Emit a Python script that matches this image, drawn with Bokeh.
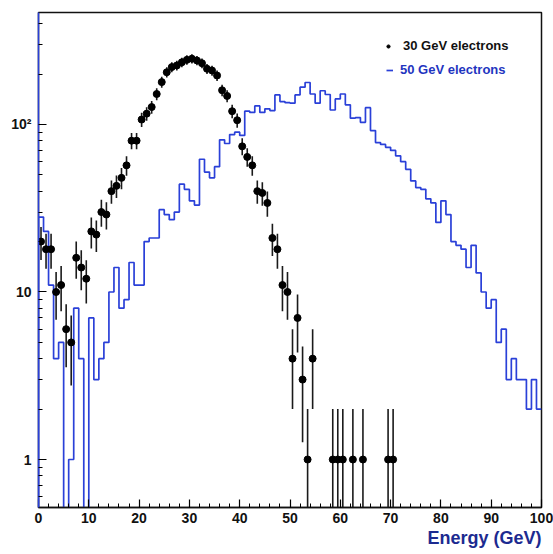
import numpy as np
from bokeh.plotting import figure
from bokeh.models import Range1d, SingleIntervalTicker, FixedTicker, Title, Legend, LegendItem
from bokeh.embed import file_html
from bokeh.resources import INLINE

# 1 GeV wide bins from 0 to 100 GeV
bin_edges = list(range(0, 101))

# 50 GeV electrons (histogram)
counts_50 = [28, 23, 11, 4, 5, 0, 1, 8, 4, 0,
             7, 3, 4, 5, 10, 14, 8, 9, 15, 11,
             11, 20, 21, 21, 31, 29, 27, 30, 44, 41,
             35, 33, 62, 52, 48, 56, 81, 77, 87, 90,
             86, 120, 118, 129, 118, 124, 121, 150, 137, 135,
             134, 150, 167, 178, 152, 134, 159, 151, 122, 142,
             152, 131, 109, 110, 103, 126, 92, 78, 76, 73,
             70, 65, 60, 54, 46, 42, 41, 36, 34, 26,
             35, 29, 20, 19, 18, 14, 19, 13, 10, 8,
             9, 5, 6, 3, 4, 3, 3, 2, 3, 2]

# 30 GeV electrons (points with errors)
counts_30 = [20, 18, 18, 10, 11, 6, 5, 16, 14, 12,
             23, 22, 30, 29, 40, 43, 48, 57, 80, 80,
             107, 116, 127, 152, 179, 205, 220, 225, 235, 243,
             247, 241, 232, 215, 210, 196, 160, 148, 120, 106,
             74, 64, 57, 40, 39, 34, 21, 18, 11, 10,
             4, 7, 3, 1, 4, 0, 0, 0, 1, 1,
             1, 0, 1, 0, 1, 0, 0, 0, 0, 1,
             1, 0, 0, 0, 0, 0, 0, 0, 0, 0,
             0, 0, 0, 0, 0, 0, 0, 0, 0, 0,
             0, 0, 0, 0, 0, 0, 0, 0, 0, 0]

x_ticks_label = ["0", "10", "20", "30", "40", "50", "60", "70", "80", "90", "100"]
y_major = [1, 10, 100]
y_labels = {1: "1", 10: "10", 100: "10\u00b2"}

Y_LO, Y_HI = 0.517, 466.0
FLOOR = 0.3

p = figure(width=553, height=554, x_range=Range1d(0, 100), y_range=Range1d(Y_LO, Y_HI),
           y_axis_type="log", output_backend="svg", toolbar_location=None,
           min_border_left=38, min_border_right=12, min_border_top=12, min_border_bottom=47)
p.xgrid.visible = False
p.ygrid.visible = False
p.outline_line_color = "#111111"
p.outline_line_width = 1.5
p.background_fill_color = "white"
p.border_fill_color = "white"

# histogram step path
hx, hy = [bin_edges[0]], [FLOOR]
for i, v in enumerate(counts_50):
    vv = v if v > 0 else FLOOR
    hx += [bin_edges[i], bin_edges[i + 1]]
    hy += [vv, vv]
hist = p.line(hx, hy, line_color="#2a40d8", line_width=1.7)

# points
c30 = np.array(counts_30, dtype=float)
centers = (np.array(bin_edges[:-1]) + np.array(bin_edges[1:])) / 2.0
mask = c30 > 0
xc = centers[mask]
yc = c30[mask]
err = np.sqrt(yc)
lo = np.maximum(yc - err, FLOOR)
hi = yc + err
p.segment(x0=xc, x1=xc, y0=lo, y1=hi, line_color="#1a1a1a", line_width=1.6)
pts = p.scatter(xc, yc, size=7, color="black")

# axes
font = "Liberation Sans"
xa = p.xaxis[0]
xa.ticker = SingleIntervalTicker(interval=10, num_minor_ticks=5)
xa.major_label_overrides = {i * 10: s for i, s in enumerate(x_ticks_label)}
ya = p.yaxis[0]
minors = [m * 10.0 ** e for e in (-1, 0, 1, 2) for m in range(2, 10)]
ya.ticker = FixedTicker(ticks=y_major, minor_ticks=minors)
ya.major_label_overrides = y_labels
for ax in (xa, ya):
    ax.major_tick_in = 8
    ax.major_tick_out = 0
    ax.minor_tick_in = 4
    ax.minor_tick_out = 0
    ax.axis_line_color = "#111111"
    ax.axis_line_width = 1.5
    ax.major_tick_line_width = 1.2
    ax.minor_tick_line_width = 1.0
    ax.major_label_text_font = font
    ax.major_label_text_font_style = "bold"
    ax.major_label_text_font_size = "14px"
    ax.major_label_text_color = "#111111"
xa.major_label_standoff = 5
ya.major_label_standoff = 7
ya.axis_line_color = "#2a40d8"

# axis title, right-aligned under the x axis
p.add_layout(Title(text="Energy (GeV)", align="right", text_font=font,
                   text_font_style="bold", text_font_size="18px",
                   text_color="#1c2a90", standoff=0, offset=0), "below")

# legends
leg1 = Legend(items=[LegendItem(label="30 GeV electrons", renderers=[pts])],
              location=(346, 454), glyph_width=8, glyph_height=14, label_height=14,
              label_standoff=11, padding=0, margin=0, spacing=0,
              border_line_color=None, background_fill_alpha=0,
              label_text_font=font, label_text_font_style="bold",
              label_text_font_size="13px", label_text_color="#111111")
leg2 = Legend(items=[LegendItem(label="50 GeV electrons", renderers=[hist])],
              location=(348, 430), glyph_width=7, glyph_height=14, label_height=14,
              label_standoff=7, padding=0, margin=0, spacing=0,
              border_line_color=None, background_fill_alpha=0,
              label_text_font=font, label_text_font_style="bold",
              label_text_font_size="13px", label_text_color="#1f35c0")
p.add_layout(leg1, "center")
p.add_layout(leg2, "center")

open("out.html", "w").write(file_html(p, INLINE))
